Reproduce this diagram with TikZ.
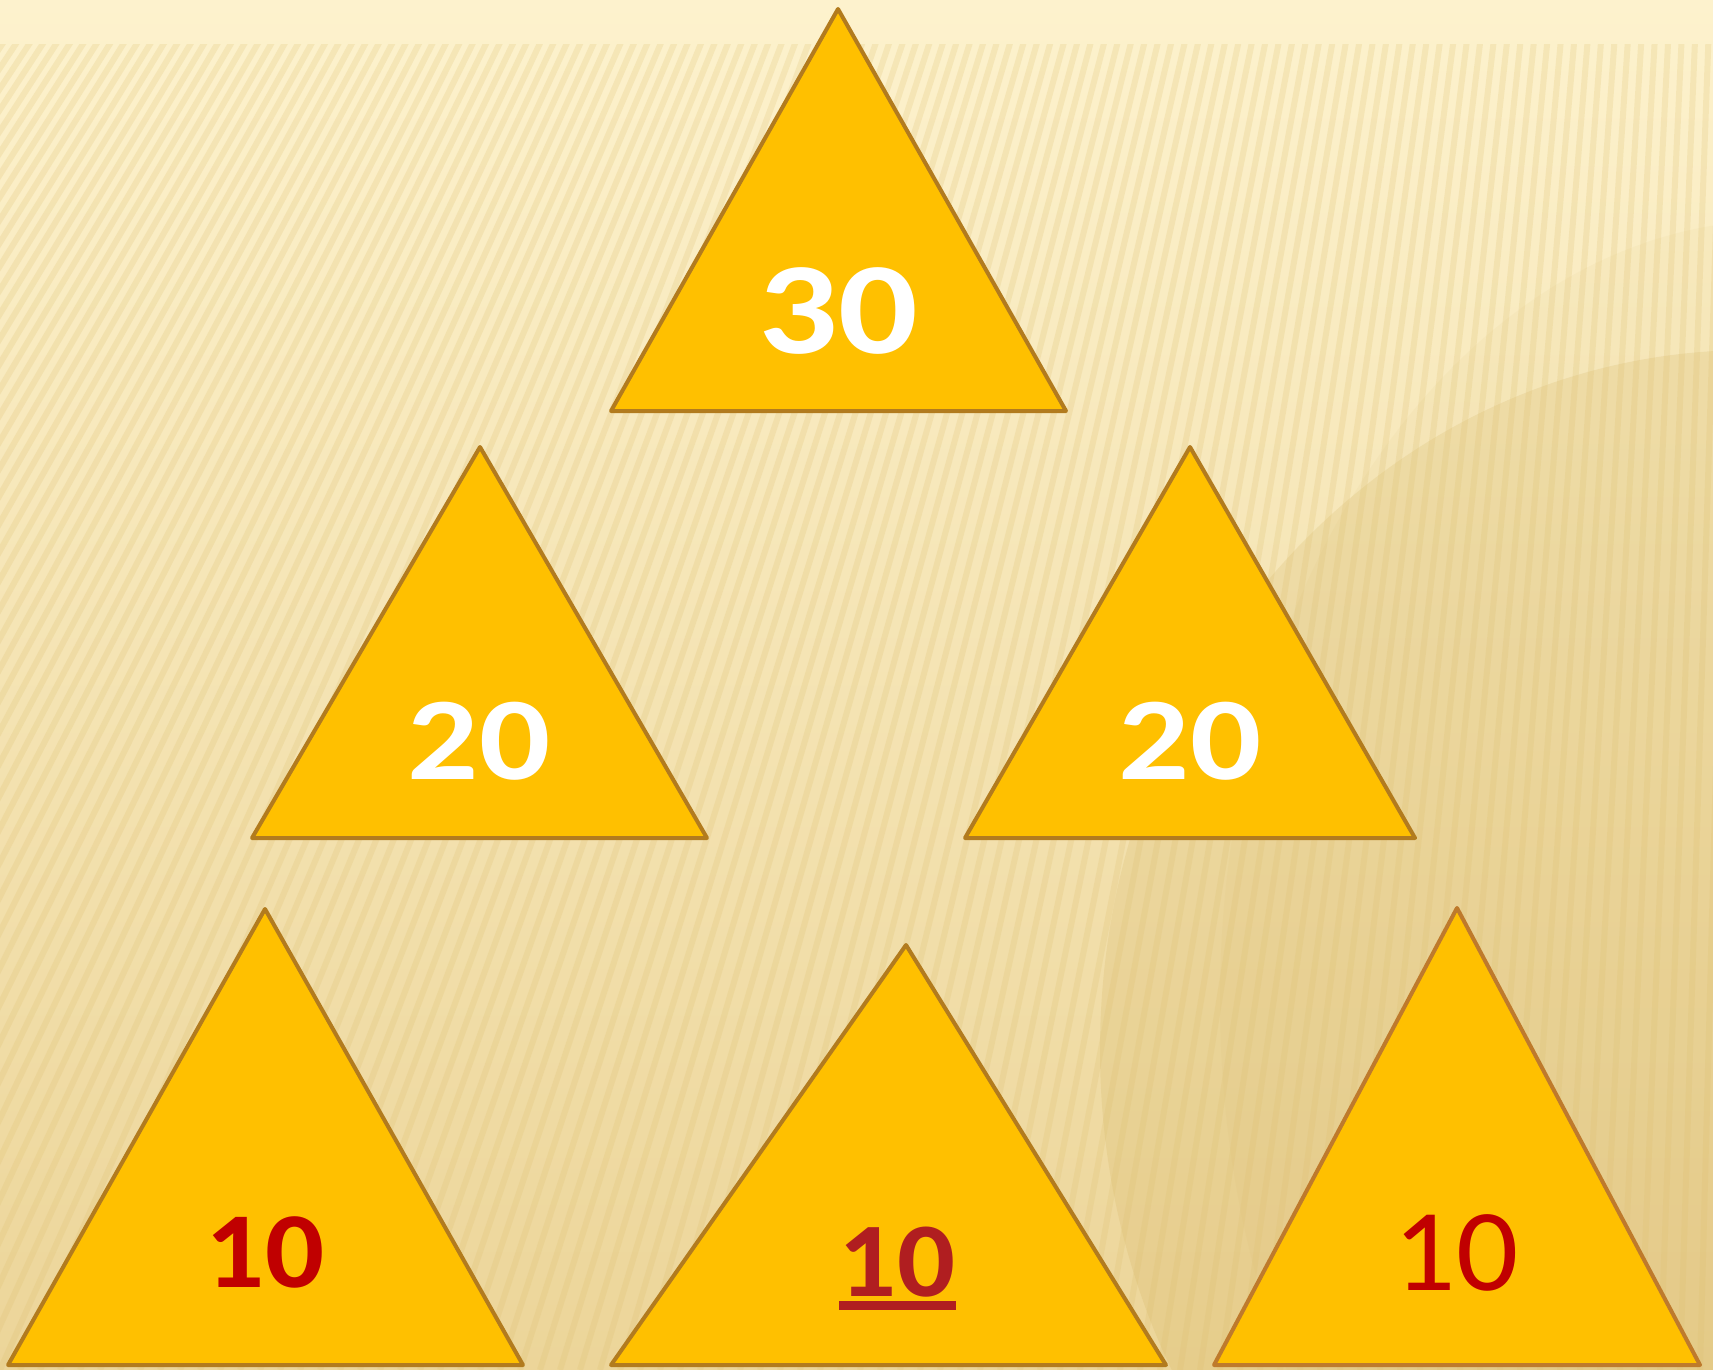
\documentclass[tikz,border=0pt]{standalone}
\usepackage{fontspec}
\setmainfont{Carlito}
\definecolor{bgtop}{HTML}{FDF2CD}
\definecolor{bgmid}{HTML}{FCEEC4}
\definecolor{bgbot}{HTML}{ECD599}
\definecolor{stripecol}{HTML}{DDBF6E}
\definecolor{shadecol}{HTML}{C9A548}
\definecolor{trifill}{HTML}{FFC000}
\definecolor{triedge}{HTML}{B27B1E}
\definecolor{triedge2}{HTML}{BE7A2C}
\definecolor{numred}{HTML}{C00000}
\definecolor{numdark}{HTML}{B01E20}
\begin{document}
\begin{tikzpicture}[x=1pt,y=-1pt,
  tri/.style={fill=trifill, draw=triedge, line width=4pt, line join=round},
  stripe/.style={draw=stripecol, line width=6pt, opacity=0.22},
  num/.style={anchor=base, inner sep=0pt}]
\useasboundingbox (0,0) rectangle (1713,1370);
% background
\shade[top color=bgtop, middle color=bgmid, bottom color=bgbot] (0,0) rectangle (1713,1370);
\begin{scope}
  \clip (0,45) rectangle (1713,1370);
  \fill[shadecol, opacity=0.16] (1750,1050) ellipse [x radius=650, y radius=700];
  \fill[shadecol, opacity=0.05] (1780,1000) ellipse [x radius=560, y radius=780];
  \foreach \i in {-55,...,90} {
    \draw[stripe] (1807,-2668) -- (\i*20,1370);
  }
\end{scope}
% triangles
\draw[tri] (838,9) -- (1066,411) -- (611,411) -- cycle;
\draw[tri] (480,447) -- (707,838) -- (252,838) -- cycle;
\draw[tri] (1190,447) -- (1415,838) -- (965,838) -- cycle;
\draw[tri] (265,909) -- (523,1365) -- (8,1365) -- cycle;
\draw[tri] (906,945) -- (1166,1365) -- (611,1365) -- cycle;
\draw[tri, draw=triedge2] (1457,908) -- (1700,1365) -- (1214,1365) -- cycle;
% numbers
\node[num, text=white, font=\bfseries\fontsize{131}{131}\selectfont] (n30) at (838,353) {\scalebox{1.2}[1]{30}};
\node[num, text=white, font=\bfseries\fontsize{118}{118}\selectfont] (n20a) at (479,779) {\scalebox{1.19}[1]{20}};
\node[num, text=white, font=\bfseries\fontsize{118}{118}\selectfont] (n20b) at (1190,779) {\scalebox{1.19}[1]{20}};
\node[num, text=numred, font=\bfseries\fontsize{108}{108}\selectfont] (n10a) at (265,1287) {\scalebox{1.08}[1]{10}};
\node[num, text=numdark, font=\bfseries\fontsize{106}{106}\selectfont] (n10b) at (897,1296) {\scalebox{1.08}[1]{10}};
\node[num, text=numred, font=\fontsize{117}{117}\selectfont] (n10c) at (1456,1290) {\scalebox{1.05}[1]{10}};
\fill[numdark] (839,1301) rectangle (956,1310);
\end{tikzpicture}
\end{document}
